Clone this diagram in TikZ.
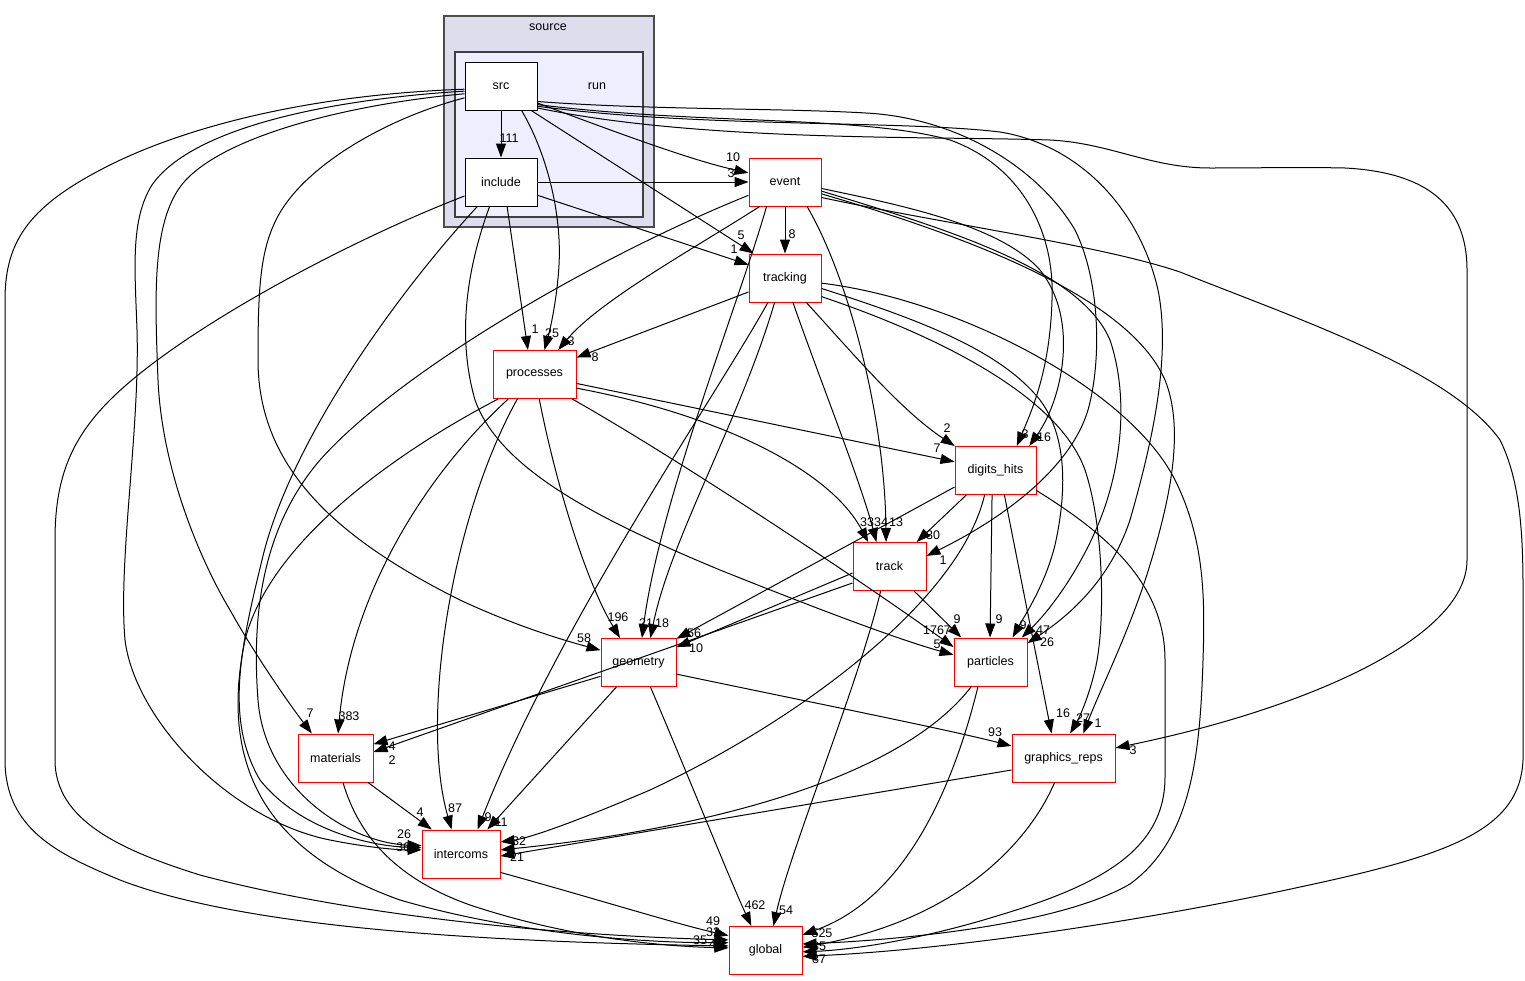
\documentclass[tikz,border=0pt]{standalone}
\usepackage{fontspec}
\setmainfont{Liberation Sans}
\usetikzlibrary{arrows.meta}
\definecolor{srcfill}{HTML}{DDDDEE}
\definecolor{runfill}{HTML}{EEEEFF}

\begin{document}
\begin{tikzpicture}[x=1pt,y=-1pt,>={Triangle[length=14pt,width=10pt]},
  every node/.style={font=\fontsize{12.5}{14}\selectfont},
  dirbox/.style={draw=red,line width=1pt,fill=white,minimum height=48pt,inner sep=0pt},
  leafbox/.style={draw=black,line width=1pt,fill=white,minimum height=48pt,inner sep=0pt},
  dep/.style={->,line width=1pt},
  num/.style={inner sep=0pt}]
  \useasboundingbox (0,0) rectangle (1525,980);
  \fill[white] (0,0) rectangle (1525,980);

  % the two nested directory clusters
  \draw[fill=srcfill,draw=black!70,line width=1.2pt] (444,16) rectangle (654,227);
  \draw[fill=runfill,draw=black!75,line width=1.2pt] (455,52) rectangle (643,217);
  \node (source) at (548,27) {source};
  \node (run) at (597,86) {run};

  \node[leafbox,minimum width=72pt] (src) at (501,86) {src};
  \node[leafbox,minimum width=72pt] (include) at (501,182) {include};
  \node[dirbox,minimum width=72pt] (event) at (785,182) {event};
  \node[dirbox,minimum width=72pt] (tracking) at (785,278) {tracking};
  \node[dirbox,minimum width=83pt] (processes) at (534.5,374.5) {processes};
  \node[dirbox,minimum width=81pt] (digits_hits) at (995.5,470.5) {digits\_hits};
  \node[dirbox,minimum width=73pt] (track) at (889.5,566.5) {track};
  \node[dirbox,minimum width=75pt] (geometry) at (638.5,662.5) {geometry};
  \node[dirbox,minimum width=73pt] (particles) at (990.5,662) {particles};
  \node[dirbox,minimum width=75pt] (materials) at (335.5,758) {materials};
  \node[dirbox,minimum width=103pt] (graphics_reps) at (1063.5,758) {graphics\_reps};
  \node[dirbox,minimum width=78pt] (intercoms) at (461,854) {intercoms};
  \node[dirbox,minimum width=73pt] (global) at (765.5,950.5) {global};

  % src
  \draw[dep] (src) -- (include);
  \draw[dep] (src.-25) .. controls (610,130) and (690,160) .. (event.166);
  \draw[dep] (src.-39) -- (tracking.142);
  \draw[dep] (src.-50) .. controls (545,150) and (562,210) .. (559,265)
    .. controls (557,300) and (550,330) .. (processes.68);
  \draw[dep] (src.-23) .. controls (650,110) and (780,108) .. (866,113)
    .. controls (960,118) and (1040,170) .. (1075,230)
    .. controls (1100,280) and (1102,360) .. (1088,410)
    .. controls (1070,470) and (1000,520) .. (track.16);
  \draw[dep] (src.-27) .. controls (700,125) and (860,115) .. (950,140)
    .. controls (1020,165) and (1055,230) .. (1052,300)
    .. controls (1050,370) and (1032,410) .. (digits_hits.49);
  \draw[dep] (src.-29) .. controls (700,128) and (900,120) .. (1000,132)
    .. controls (1080,145) and (1140,210) .. (1158,290)
    .. controls (1172,360) and (1150,450) .. (1130,520)
    .. controls (1110,580) and (1070,615) .. (particles.27);
  \draw[dep] (src.-31) .. controls (700,142) and (930,136) .. (1050,140)
    .. controls (1110,143) and (1150,168) .. (1210,168)
    .. controls (1260,168) and (1300,167) .. (1345,168)
    .. controls (1420,172) and (1467,200) .. (1467,270) -- (1467,560)
    .. controls (1467,640) and (1300,710) .. (graphics_reps.11);
  \draw[dep] (src.185) .. controls (300,95) and (180,130) .. (110,165)
    .. controls (30,205) and (5,240) .. (5,300) -- (5,760)
    .. controls (5,830) and (60,855) .. (120,880)
    .. controls (250,930) and (500,942) .. (global.173);
  \draw[dep] (src.188) .. controls (320,100) and (190,130) .. (152,185)
    .. controls (130,220) and (135,270) .. (137,330)
    .. controls (140,430) and (118,560) .. (125,640)
    .. controls (135,720) and (230,820) .. (330,840)
    .. controls (370,848) and (400,850) .. (intercoms.174);
  \draw[dep] (src.192) .. controls (340,105) and (210,140) .. (178,190)
    .. controls (152,230) and (155,300) .. (158,380)
    .. controls (162,470) and (200,560) .. (230,610)
    .. controls (255,655) and (290,705) .. (materials.134);
  \draw[dep] (src.198) .. controls (380,120) and (300,170) .. (276,220)
    .. controls (260,252) and (258,290) .. (258,360)
    .. controls (258,470) and (340,540) .. (460,600)
    .. controls (520,628) and (570,642) .. (geometry.162);

  % include
  \draw[dep] (include) -- (event);
  \draw[dep] (include.-20) -- (tracking.160);
  \draw[dep] (include.-76) -- (processes.105);
  \draw[dep] (include.-115) .. controls (470,260) and (455,330) .. (475,400)
    .. controls (500,470) and (600,520) .. (720,570)
    .. controls (820,610) and (900,640) .. (particles.169);
  \draw[dep] (include.-134) .. controls (400,290) and (290,440) .. (262,560)
    .. controls (240,650) and (225,720) .. (260,780)
    .. controls (300,830) and (370,846) .. (intercoms.171);
  \draw[dep] (include.-159) .. controls (350,240) and (180,330) .. (110,400)
    .. controls (70,440) and (55,480) .. (55,540) -- (55,760)
    .. controls (55,820) and (120,850) .. (200,875)
    .. controls (350,915) and (550,935) .. (global.164);

  % event
  \draw[dep] (event) -- (tracking);
  \draw[dep] (event.-136) .. controls (700,245) and (600,300) .. (processes.46);
  \draw[dep] (event.-127) .. controls (740,300) and (660,500) .. (geometry.82);
  \draw[dep] (event.-48) .. controls (850,280) and (885,420) .. (track.98);
  \draw[dep] (event.-160) .. controls (600,255) and (400,370) .. (320,460)
    .. controls (260,530) and (252,620) .. (258,700)
    .. controls (265,790) and (350,843) .. (intercoms.168);
  \draw[dep] (event.-10) .. controls (900,205) and (1000,225) .. (1040,270)
    .. controls (1080,320) and (1062,400) .. (digits_hits.36);
  \draw[dep] (event.-14) .. controls (950,230) and (1080,270) .. (1110,340)
    .. controls (1130,400) and (1120,470) .. (1100,520)
    .. controls (1080,570) and (1050,610) .. (particles.38);
  \draw[dep] (event.-18) .. controls (980,240) and (1130,300) .. (1165,380)
    .. controls (1185,430) and (1170,500) .. (1149,568)
    .. controls (1130,630) and (1100,690) .. (graphics_reps.51);
  \draw[dep] (event.-23) .. controls (950,225) and (1100,245) .. (1180,272)
    .. controls (1300,320) and (1450,370) .. (1500,440)
    .. controls (1525,490) and (1523,560) .. (1523,620) -- (1523,760)
    .. controls (1520,830) and (1450,855) .. (1300,887)
    .. controls (1150,920) and (950,950) .. (global.-9);

  % tracking
  \draw[dep] (tracking.-159) -- (processes.22);
  \draw[dep] (tracking.-125) .. controls (720,390) and (560,620) .. (intercoms.56);
  \draw[dep] (tracking.-113) .. controls (740,420) and (670,540) .. (geometry.64);
  \draw[dep] (tracking.-72) .. controls (820,380) and (860,480) .. (track.118);
  \draw[dep] (tracking.-49) .. controls (850,350) and (900,410) .. (digits_hits.149);
  \draw[dep] (tracking.-8) .. controls (960,300) and (1130,390) .. (1175,480)
    .. controls (1205,540) and (1205,600) .. (1203,660)
    .. controls (1200,760) and (1190,840) .. (1130,884)
    .. controls (1060,925) and (900,940) .. (global.10);
  \draw[dep] (tracking.-16) .. controls (920,320) and (1000,350) .. (1040,400)
    .. controls (1070,440) and (1065,500) .. (1055,545)
    .. controls (1045,585) and (1025,615) .. (particles.48);
  \draw[dep] (tracking.-27) .. controls (950,340) and (1060,400) .. (1085,470)
    .. controls (1105,530) and (1105,630) .. (1095,670)
    .. controls (1088,700) and (1078,720) .. (graphics_reps.75);

  % processes
  \draw[dep] (processes.-12) -- (digits_hits.168);
  \draw[dep] (processes.-18) .. controls (720,415) and (830,470) .. (track.131);
  \draw[dep] (processes.-33) .. controls (680,460) and (860,580) .. (particles.158);
  \draw[dep] (processes.-79) .. controls (555,480) and (585,580) .. (geometry.127);
  \draw[dep] (processes.-125) .. controls (450,520) and (420,720) .. (intercoms.111);
  \draw[dep] (processes.-137) .. controls (420,480) and (350,600) .. (materials.84);
  \draw[dep] (processes.-146) .. controls (400,450) and (270,540) .. (245,640)
    .. controls (220,760) and (260,850) .. (400,900)
    .. controls (520,935) and (650,943) .. (global.168);

  % digits_hits
  \draw[dep] (digits_hits.-140) -- (track.42);
  \draw[dep] (digits_hits.-158) -- (geometry.32);
  \draw[dep] (digits_hits.-114) .. controls (960,600) and (800,720) .. (650,790)
    .. controls (580,820) and (530,838) .. (intercoms.17);
  \draw[dep] (digits_hits.-98) -- (particles.91);
  \draw[dep] (digits_hits.-70) -- (graphics_reps.116);
  \draw[dep] (digits_hits.-26) .. controls (1100,530) and (1165,580) .. (1165,660) -- (1165,777)
    .. controls (1165,850) and (1100,885) .. (1000,915)
    .. controls (920,940) and (850,950) .. (global.-2);

  % track
  \draw[dep] (track.-170) -- (geometry.22);
  \draw[dep] (track.-156) -- (materials.9);
  \draw[dep] (track.-45) -- (particles.140);
  \draw[dep] (track.-110) .. controls (860,680) and (790,850) .. (global.72);

  % geometry
  \draw[dep] (geometry.-160) -- (materials.20);
  \draw[dep] (geometry.-132) -- (intercoms.43);
  \draw[dep] (geometry.-17) .. controls (800,700) and (950,730) .. (graphics_reps.167);
  \draw[dep] (geometry.-64) .. controls (690,780) and (730,880) .. (global.120);

  % particles, materials, graphics_reps, intercoms
  \draw[dep] (particles.-128) .. controls (900,780) and (700,830) .. (intercoms.6);
  \draw[dep] (particles.-117) .. controls (950,800) and (900,900) .. (global.23);
  \draw[dep] (materials.-37) -- (intercoms.140);
  \draw[dep] (materials.-73) .. controls (360,840) and (400,880) .. (470,905)
    .. controls (560,935) and (650,946) .. (global.176);
  \draw[dep] (graphics_reps.-167) -- (intercoms.-3);
  \draw[dep] (graphics_reps.-110) .. controls (1030,840) and (960,920) .. (global.5);
  \draw[dep] (intercoms.-25) .. controls (600,900) and (680,925) .. (global.158);

  % dependency counts
  \node[num] (c1) at (509,138) {111};
  \node[num] (c2) at (733,157) {10};
  \node[num] (c3) at (731,173) {3};
  \node[num] (c4) at (741,235) {5};
  \node[num] (c5) at (734,249) {1};
  \node[num] (c6) at (792,234) {8};
  \node[num] (c7) at (535,329) {1};
  \node[num] (c8) at (552,333) {25};
  \node[num] (c9) at (571,341) {3};
  \node[num] (c10) at (595,357) {8};
  \node[num] (c11) at (947,428) {2};
  \node[num] (c12) at (937,448) {7};
  \node[num] (c13) at (1025,434) {3};
  \node[num] (c14) at (1044,437) {16};
  \node[num] (c15) at (867,522) {33};
  \node[num] (c16) at (881,522) {34};
  \node[num] (c17) at (896,522) {13};
  \node[num] (c18) at (933,535) {30};
  \node[num] (c19) at (943,560) {1};
  \node[num] (c20) at (618,617) {196};
  \node[num] (c21) at (646,623) {21};
  \node[num] (c22) at (662,623) {18};
  \node[num] (c23) at (584,638) {58};
  \node[num] (c24) at (694,633) {56};
  \node[num] (c25) at (696,648) {10};
  \node[num] (c26) at (957,619) {9};
  \node[num] (c27) at (999,619) {9};
  \node[num] (c28) at (1023,625) {9};
  \node[num] (c29) at (1043,630) {47};
  \node[num] (c30) at (1047,642) {26};
  \node[num] (c31) at (937,630) {1767};
  \node[num] (c32) at (937,644) {5};
  \node[num] (c33) at (310,713) {7};
  \node[num] (c34) at (349,716) {383};
  \node[num] (c35) at (392,746) {4};
  \node[num] (c36) at (392,760) {2};
  \node[num] (c37) at (1063,713) {16};
  \node[num] (c38) at (1083,718) {27};
  \node[num] (c39) at (1098,723) {1};
  \node[num] (c40) at (995,732) {93};
  \node[num] (c41) at (1133,750) {3};
  \node[num] (c42) at (420,812) {4};
  \node[num] (c43) at (455,808) {87};
  \node[num] (c44) at (488,817) {9};
  \node[num] (c45) at (501,822) {11};
  \node[num] (c46) at (404,834) {26};
  \node[num] (c47) at (403,847) {36};
  \node[num] (c48) at (519,841) {32};
  \node[num] (c49) at (517,857) {21};
  \node[num] (c50) at (713,921) {49};
  \node[num] (c51) at (713,932) {32};
  \node[num] (c52) at (700,940) {35};
  \node[num] (c53) at (716,944) {42};
  \node[num] (c54) at (755,905) {462};
  \node[num] (c55) at (786,910) {54};
  \node[num] (c56) at (822,933) {525};
  \node[num] (c57) at (819,946) {35};
  \node[num] (c58) at (819,959) {87};
\end{tikzpicture}
\end{document}
